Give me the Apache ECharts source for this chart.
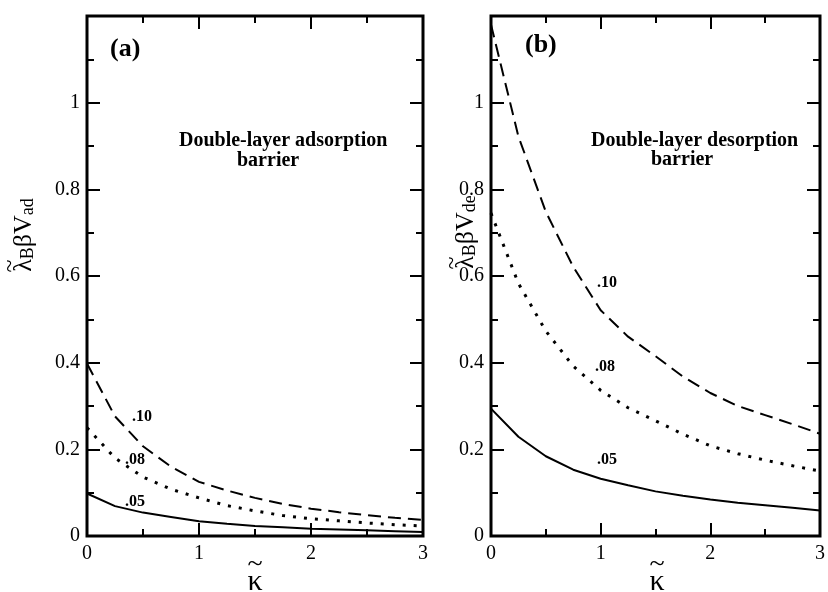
<!DOCTYPE html>
<html>
<head>
<meta charset="utf-8">
<script src="https://cdn.jsdelivr.net/npm/echarts@6/dist/echarts.min.js"></script>
<style>
  html, body { margin: 0; padding: 0; background: #fff; }
  #chart { width: 828px; height: 592px; }
</style>
</head>
<body>
<div id="chart"></div>
<script>
// kappa tilde, sampled every 0.25
const kappa = [0, 0.25, 0.5, 0.75, 1, 1.25, 1.5, 1.75, 2, 2.25, 2.5, 2.75, 3]

// (a) adsorption barrier
const adsorption05 = [0.098, 0.069, 0.054, 0.044, 0.034, 0.028, 0.023, 0.020, 0.017, 0.015, 0.013, 0.011, 0.009]
const adsorption08 = [0.250, 0.180, 0.136, 0.108, 0.088, 0.070, 0.058, 0.047, 0.040, 0.035, 0.030, 0.026, 0.023]
const adsorption10 = [0.398, 0.276, 0.207, 0.160, 0.125, 0.105, 0.088, 0.074, 0.063, 0.055, 0.048, 0.042, 0.037]

// (b) desorption barrier
const desorption05 = [0.294, 0.229, 0.184, 0.153, 0.132, 0.117, 0.103, 0.093, 0.084, 0.077, 0.071, 0.065, 0.059]
const desorption08 = [0.745, 0.583, 0.473, 0.392, 0.336, 0.296, 0.266, 0.235, 0.208, 0.190, 0.175, 0.162, 0.150]
const desorption10 = [1.180, 0.922, 0.748, 0.621, 0.521, 0.460, 0.415, 0.368, 0.330, 0.300, 0.279, 0.258, 0.236]

const xTickLabels = ['0', '1', '2', '3']
const yTickLabels = ['0', '0.2', '0.4', '0.6', '0.8', '1', '']

const serif = '"Liberation Serif", "DejaVu Serif", serif'
const pair = ys => kappa.map((k, i) => [k, ys[i]])

const grids = [
  { left: 87, top: 16, width: 336, height: 520 },
  { left: 491, top: 16, width: 333, height: 520 }
]

function xAxisFor(gridIndex, position) {
  return {
    type: 'value',
    gridIndex,
    position,
    min: 0,
    max: 3,
    interval: 1,
    axisLine: { show: false, onZero: false },
    axisTick: { inside: true, length: 13, lineStyle: { color: '#000', width: 2 } },
    minorTick: { show: true, splitNumber: 2, length: 7, lineStyle: { color: '#000', width: 2 } },
    splitLine: { show: false },
    axisLabel: {
      show: position === 'bottom',
      margin: 8,
      color: '#000',
      fontSize: 20,
      fontFamily: serif,
      formatter: v => xTickLabels[Math.round(v)]
    }
  }
}

function yAxisFor(gridIndex, position) {
  return {
    type: 'value',
    gridIndex,
    position,
    min: 0,
    max: 1.2,
    interval: 0.2,
    axisLine: { show: false, onZero: false },
    axisTick: { inside: true, length: 13, lineStyle: { color: '#000', width: 2 } },
    minorTick: { show: true, splitNumber: 2, length: 7, lineStyle: { color: '#000', width: 2 } },
    splitLine: { show: false },
    axisLabel: {
      show: position === 'left',
      margin: 7,
      color: '#000',
      fontSize: 20,
      fontFamily: serif,
      formatter: v => yTickLabels[Math.round(v / 0.2)]
    }
  }
}

function curve(name, ys, idx, dash, width) {
  return {
    type: 'line',
    name,
    xAxisIndex: idx * 2,
    yAxisIndex: idx * 2,
    data: pair(ys),
    showSymbol: false,
    symbol: 'none',
    lineStyle: { color: '#000', width: width || 2, type: dash },
    silent: true
  }
}

function label(text, x, y, size) {
  return {
    type: 'text',
    x,
    y,
    style: {
      text,
      fill: '#000',
      font: 'bold ' + size + 'px ' + serif,
      verticalAlign: 'middle'
    }
  }
}

const yTitleRich = {
  a: { fontSize: 26, fontFamily: serif, color: '#000', verticalAlign: 'top', lineHeight: 26, padding: [0, 0, 8, 0] },
  s: { fontSize: 18, fontFamily: serif, color: '#000', verticalAlign: 'bottom', lineHeight: 18 }
}

// rotated y title with a tilde drawn over the lambda
function yTitle(sub, x, y) {
  return {
    type: 'group',
    x,
    y,
    rotation: Math.PI / 2,
    children: [
      {
        type: 'text',
        style: {
          text: '{a|\u03bb}{s|B}{a|\u03b2V}{s|' + sub + '}',
          rich: yTitleRich,
          align: 'center',
          verticalAlign: 'middle'
        }
      },
      {
        type: 'text',
        x: -31,
        y: -13,
        style: { text: '~', fill: '#000', font: '24px ' + serif, align: 'center', verticalAlign: 'middle' }
      }
    ]
  }
}

function xTitle(x, y) {
  return {
    type: 'group',
    x,
    y,
    children: [
      {
        type: 'text',
        style: { text: '\u03ba', fill: '#000', font: '30px ' + serif, align: 'center', verticalAlign: 'middle' }
      },
      {
        type: 'text',
        y: -17,
        style: { text: '~', fill: '#000', font: '28px ' + serif, align: 'center', verticalAlign: 'middle' }
      }
    ]
  }
}

const chart = echarts.init(document.getElementById('chart'))
chart.setOption({
  backgroundColor: '#fff',
  animation: false,
  grid: grids.map(g => Object.assign({ show: true, borderColor: '#000', borderWidth: 3, backgroundColor: 'transparent' }, g)),
  xAxis: [xAxisFor(0, 'bottom'), xAxisFor(0, 'top'), xAxisFor(1, 'bottom'), xAxisFor(1, 'top')],
  yAxis: [yAxisFor(0, 'left'), yAxisFor(0, 'right'), yAxisFor(1, 'left'), yAxisFor(1, 'right')],
  series: [
    curve('.05', adsorption05, 0, 'solid'),
    curve('.08', adsorption08, 0, [3, 8], 3),
    curve('.10', adsorption10, 0, [13, 7]),
    curve('.05', desorption05, 1, 'solid'),
    curve('.08', desorption08, 1, [3, 8], 3),
    curve('.10', desorption10, 1, [13, 7])
  ],
  graphic: [
    label('(a)', 110, 49, 26),
    label('Double-layer adsorption', 179, 141, 20),
    label('barrier', 237, 161, 20),
    label('.10', 132, 417, 16),
    label('.08', 125, 460, 16),
    label('.05', 125, 502, 16),
    label('(b)', 525, 45, 26),
    label('Double-layer desorption', 591, 141, 20),
    label('barrier', 651, 160, 20),
    label('.10', 597, 283, 16),
    label('.08', 595, 367, 16),
    label('.05', 597, 460, 16),
    yTitle('ad', 24, 235),
    yTitle('de', 466, 232),
    xTitle(255, 582),
    xTitle(657, 582)
  ]
})
</script>
</body>
</html>
